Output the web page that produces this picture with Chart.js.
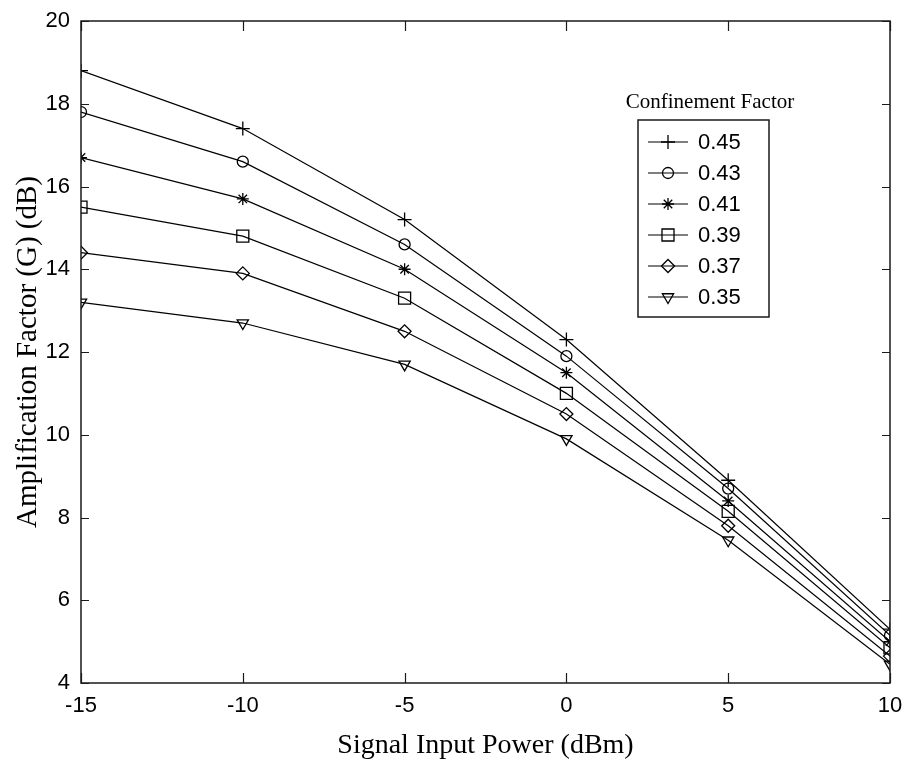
<!DOCTYPE html>
<html>
<head>
<meta charset="utf-8">
<script src="https://cdn.jsdelivr.net/npm/chart.js@4.4.1/dist/chart.umd.min.js"></script>
<style>
  html, body { margin: 0; padding: 0; background: #ffffff; }
  canvas { display: block; }
</style>
</head>
<body>
<canvas id="gainChart" width="904" height="759"></canvas>
<script>
// Signal input power (dBm) on the x axis
const inputPower = [-15, -10, -5, 0, 5, 10];

// Confinement factor of each curve
const factorLabels = ['0.45', '0.43', '0.41', '0.39', '0.37', '0.35'];

// Amplification factor G (dB) for each confinement factor
const gain045 = [18.8, 17.4, 15.2, 12.3, 8.9, 5.3];
const gain043 = [17.8, 16.6, 14.6, 11.9, 8.7, 5.15];
const gain041 = [16.7, 15.7, 14.0, 11.5, 8.4, 5.0];
const gain039 = [15.5, 14.8, 13.3, 11.0, 8.15, 4.85];
const gain037 = [14.4, 13.9, 12.5, 10.5, 7.8, 4.65];
const gain035 = [13.2, 12.7, 11.7, 9.9, 7.45, 4.45];

// Axis ranges and tick spacing
const xRange = [-15, 10];
const xStep = 5;
const yRange = [4, 20];
const yStep = 2;

const gainSeries = [gain045, gain043, gain041, gain039, gain037, gain035];

// Marker for each curve: plus, circle, asterisk, square, diamond, down-triangle
const markers = [
  { style: 'cross',    radius: 7,   rotation: 0 },
  { style: 'circle',   radius: 5.5, rotation: 0 },
  { style: 'star',     radius: 6,   rotation: 0 },
  { style: 'rect',     radius: 8.5, rotation: 0 },
  { style: 'rectRot',  radius: 6.5, rotation: 0 },
  { style: 'triangle', radius: 6.5, rotation: 180 }
];

const SANS = "'Liberation Sans', Arial, sans-serif";
const SERIF = "'Liberation Serif', 'DejaVu Serif', serif";
const INK = '#000000';

const datasets = gainSeries.map((values, i) => ({
  label: factorLabels[i],
  data: inputPower.map((x, j) => ({ x: x, y: values[j] })),
  borderColor: INK,
  borderWidth: 1.2,
  backgroundColor: 'rgba(0,0,0,0)',
  pointStyle: markers[i].style,
  pointRadius: markers[i].radius,
  pointRotation: markers[i].rotation,
  pointBorderColor: INK,
  pointBorderWidth: 1.3,
  pointBackgroundColor: 'rgba(0,0,0,0)',
  tension: 0,
  fill: false
}));

// Axis box with inward tick marks on all four sides
const frameTicks = {
  id: 'frameTicks',
  afterDraw(chart) {
    const { ctx, chartArea: a, scales } = chart;
    const len = 8;
    ctx.save();
    ctx.strokeStyle = '#1a1a1a';
    ctx.lineWidth = 1.5;
    ctx.strokeRect(a.left, a.top, a.right - a.left, a.bottom - a.top);
    ctx.lineWidth = 1.2;
    ctx.beginPath();
    scales.y.ticks.forEach(t => {
      const py = Math.round(scales.y.getPixelForValue(t.value)) + 0.5;
      ctx.moveTo(a.left, py); ctx.lineTo(a.left + len, py);
      ctx.moveTo(a.right, py); ctx.lineTo(a.right - len, py);
    });
    scales.x.ticks.forEach(t => {
      const px = Math.round(scales.x.getPixelForValue(t.value)) + 0.5;
      ctx.moveTo(px, a.bottom); ctx.lineTo(px, a.bottom - len - 2);
      ctx.moveTo(px, a.top); ctx.lineTo(px, a.top + len + 2);
    });
    ctx.stroke();
    ctx.restore();
  }
};

// Boxed legend with a heading, placed in the upper right of the plot
const boxedLegend = {
  id: 'boxedLegend',
  afterDraw(chart) {
    const { ctx, chartArea: a } = chart;
    const boxLeft = a.right - 252;
    const boxTop = a.top + 99;
    const boxW = 131;
    const rowH = 31;
    const sets = chart.data.datasets;
    const boxH = rowH * sets.length + 11;

    ctx.save();
    ctx.fillStyle = INK;
    ctx.font = "21px " + SERIF;
    ctx.textAlign = 'center';
    ctx.textBaseline = 'middle';
    ctx.fillText('Confinement Factor', boxLeft + 72, a.top + 81);

    ctx.fillStyle = '#ffffff';
    ctx.fillRect(boxLeft, boxTop, boxW, boxH);
    ctx.strokeStyle = '#1a1a1a';
    ctx.lineWidth = 1.5;
    ctx.strokeRect(boxLeft, boxTop, boxW, boxH);

    ctx.font = "22px " + SANS;
    ctx.textAlign = 'left';
    sets.forEach((ds, i) => {
      const cy = boxTop + 22 + i * rowH;
      const x0 = boxLeft + 10, x1 = boxLeft + 50, cx = (x0 + x1) / 2;
      ctx.strokeStyle = INK;
      ctx.lineWidth = 1.2;
      ctx.beginPath();
      ctx.moveTo(x0, cy); ctx.lineTo(x1, cy);
      ctx.stroke();
      ctx.fillStyle = 'rgba(0,0,0,0)';
      ctx.lineWidth = ds.pointBorderWidth;
      Chart.helpers.drawPoint(ctx, {
        pointStyle: ds.pointStyle,
        rotation: ds.pointRotation,
        radius: ds.pointRadius,
        borderWidth: ds.pointBorderWidth
      }, cx, cy);
      ctx.fillStyle = INK;
      ctx.fillText(ds.label, boxLeft + 60, cy + 1);
    });
    ctx.restore();
  }
};

new Chart(document.getElementById('gainChart'), {
  type: 'line',
  data: { datasets: datasets },
  options: {
    responsive: false,
    animation: false,
    devicePixelRatio: 1,
    layout: { padding: { top: 21, right: 14, left: 0, bottom: 0 } },
    plugins: {
      legend: { display: false },
      tooltip: { enabled: false }
    },
    scales: {
      x: {
        type: 'linear',
        min: xRange[0],
        max: xRange[1],
        afterFit(scale) {
          scale.height = 76;
          scale.paddingLeft = 0;
          scale.paddingRight = 0;
        },
        grid: { display: false, drawTicks: false },
        border: { display: false },
        ticks: {
          stepSize: xStep,
          padding: 10,
          color: INK,
          font: { family: SANS, size: 22 },
          maxRotation: 0
        },
        title: {
          display: true,
          text: 'Signal Input Power (dBm)',
          color: INK,
          font: { family: SERIF, size: 28, lineHeight: 1 },
          padding: { top: 0, bottom: -1 }
        }
      },
      y: {
        type: 'linear',
        min: yRange[0],
        max: yRange[1],
        afterFit(scale) {
          scale.width = 81;
          scale.paddingTop = 0;
          scale.paddingBottom = 0;
        },
        grid: { display: false, drawTicks: false },
        border: { display: false },
        ticks: {
          stepSize: yStep,
          padding: 11,
          color: INK,
          font: { family: SANS, size: 22 }
        },
        title: {
          display: true,
          text: 'Amplification Factor (G) (dB)',
          color: INK,
          font: { family: SERIF, size: 29, lineHeight: 1 },
          padding: { top: 14, bottom: 0 }
        }
      }
    }
  },
  plugins: [frameTicks, boxedLegend]
});
</script>
</body>
</html>
